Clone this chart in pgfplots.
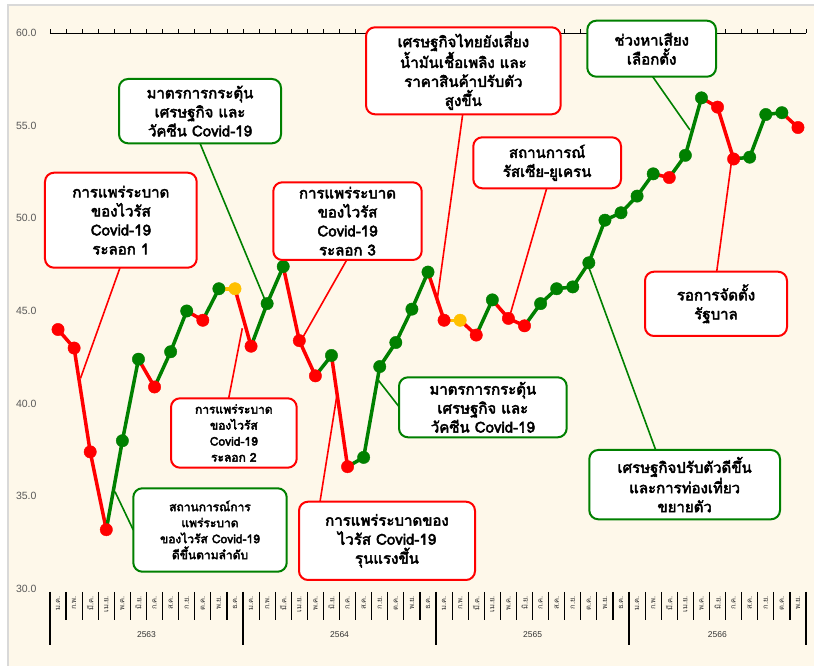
\documentclass[border=0pt]{standalone}
\usepackage{pgfplots}
\pgfplotsset{compat=1.18}
\usepackage{fontspec}
\setmainfont{Liberation Sans}
\newfontfamily\thaifont[Script=Thai, AutoFakeBold=3.2]{Loma}
\definecolor{cream}{HTML}{FEF8EA}
\definecolor{myred}{HTML}{FF0000}
\definecolor{mygreen}{HTML}{008000}
\definecolor{myyellow}{HTML}{FFC000}
\definecolor{framegray}{HTML}{D9D9D9}
\definecolor{ticklab}{HTML}{595959}
\newcommand{\bigf}{\thaifont\bfseries\fontsize{15}{19}\selectfont}
\newcommand{\smallf}{\thaifont\bfseries\fontsize{12}{16}\selectfont}
% \abox{color}{cx}{cy}{w}{h}{font}{text}
\newcommand{\abox}[7]{%
  \node[draw=#1, line width=2pt, fill=white, rounded corners=9pt,
        minimum width=#4pt, minimum height=#5pt, inner sep=0pt,
        align=center, font=#6, text=black] at (#2pt,#3pt) {#7};}
\begin{document}
\begin{tikzpicture}
\useasboundingbox (-50pt,-77pt) rectangle (764pt,589pt);
\fill[white] (-50pt,-77pt) rectangle (764pt,589pt);
\begin{scope}
\clip (-50pt,-77pt) rectangle (764pt,589pt);
\draw[framegray, line width=2pt, fill=cream] (-42pt,-100pt) rectangle (800pt,584pt);
\end{scope}
\begin{axis}[
  scale only axis, width=756pt, height=556pt,
  xmin=-0.5, xmax=46.5, ymin=30, ymax=60,
  axis x line*=top, axis y line*=left,
  y axis line style={draw=none},
  x axis line style={black, line width=0.8pt},
  xtick={-0.5,0.5,...,46.5}, xticklabels={},
  xtick align=outside, xtick style={black, line width=0.8pt},
  major tick length=3.5pt,
  ytick={30,35,...,60}, ytick style={draw=none},
  yticklabel style={font=\fontsize{10.5}{12}\selectfont, text=ticklab, xshift=-10pt,
    /pgf/number format/fixed, /pgf/number format/fixed zerofill,
    /pgf/number format/precision=1, /pgf/number format/assume math mode=true},
  unbounded coords=jump,
  clip=false,
]
% line segments, coloured by direction
\addplot[myred, line width=3.5pt, line join=round, line cap=round, no markers] coordinates {
(0,44.0)(1,43.0)(2,37.4)(3,33.2) (3,nan)
(5,42.4)(6,40.9) (6,nan)
(8,45.0)(9,44.5) (9,nan)
(11,46.2)(12,43.1) (12,nan)
(14,47.4)(15,43.4)(16,41.5) (16,nan)
(17,42.6)(18,36.6) (18,nan)
(23,47.1)(24,44.5) (24,nan)
(25,44.5)(26,43.7) (26,nan)
(27,45.6)(28,44.6)(29,44.2) (29,nan)
(37,52.4)(38,52.2) (38,nan)
(40,56.5)(41,56.0)(42,53.2) (42,nan)
(45,55.7)(46,54.9)};
\addplot[mygreen, line width=3.5pt, line join=round, line cap=round, no markers] coordinates {
(3,33.2)(4,38.0)(5,42.4) (5,nan)
(6,40.9)(7,42.8)(8,45.0) (8,nan)
(9,44.5)(10,46.2) (10,nan)
(12,43.1)(13,45.4)(14,47.4) (14,nan)
(16,41.5)(17,42.6) (17,nan)
(18,36.6)(19,37.1)(20,42.0)(21,43.3)(22,45.1)(23,47.1) (23,nan)
(26,43.7)(27,45.6) (27,nan)
(29,44.2)(30,45.4)(31,46.2)(32,46.3)(33,47.6)(34,49.9)(35,50.3)(36,51.2)(37,52.4) (37,nan)
(38,52.2)(39,53.4)(40,56.5) (40,nan)
(42,53.2)(43,53.3)(44,55.6)(45,55.7)};
\addplot[myyellow, line width=3.5pt, line join=round, line cap=round, no markers] coordinates {
(10,46.2)(11,46.2) (11,nan)
(24,44.5)(25,44.5)};
% markers
\addplot[only marks, mark=*, mark size=6.2pt, mark options={draw=myred, fill=myred}] coordinates {
(0,44.0)(1,43.0)(2,37.4)(3,33.2)(6,40.9)(9,44.5)(12,43.1)(15,43.4)(16,41.5)(18,36.6)
(24,44.5)(26,43.7)(28,44.6)(29,44.2)(38,52.2)(41,56.0)(42,53.2)(46,54.9)};
\addplot[only marks, mark=*, mark size=6.2pt, mark options={draw=mygreen, fill=mygreen}] coordinates {
(4,38.0)(5,42.4)(7,42.8)(8,45.0)(10,46.2)(13,45.4)(14,47.4)(17,42.6)(19,37.1)(20,42.0)
(21,43.3)(22,45.1)(23,47.1)(27,45.6)(30,45.4)(31,46.2)(32,46.3)(33,47.6)(34,49.9)(35,50.3)
(36,51.2)(37,52.4)(39,53.4)(40,56.5)(43,53.3)(44,55.6)(45,55.7)};
\addplot[only marks, mark=*, mark size=6.2pt, mark options={draw=myyellow, fill=myyellow}] coordinates {
(11,46.2)(25,44.5)};
\end{axis}
% category axis (months / years)
\foreach \k in {0,...,47} \draw[line width=1.2pt] ({16.0851*\k*1pt},-3pt) -- ({16.0851*\k*1pt},-31pt);
\foreach \k in {0,12,24,36,47} \draw[line width=1.2pt] ({16.0851*\k*1pt},-3pt) -- ({16.0851*\k*1pt},-56pt);
\foreach \m [count=\i from 0] in {ม.ค.,ก.พ.,มี.ค.,เม.ย.,พ.ค.,มิ.ย.,ก.ค.,ส.ค.,ก.ย.,ต.ค.,พ.ย.,ธ.ค.,
  ม.ค.,ก.พ.,มี.ค.,เม.ย.,พ.ค.,มิ.ย.,ก.ค.,ส.ค.,ก.ย.,ต.ค.,พ.ย.,ธ.ค.,
  ม.ค.,ก.พ.,มี.ค.,เม.ย.,พ.ค.,มิ.ย.,ก.ค.,ส.ค.,ก.ย.,ต.ค.,พ.ย.,ธ.ค.,
  ม.ค.,ก.พ.,มี.ค.,เม.ย.,พ.ค.,มิ.ย.,ก.ค.,ส.ค.,ก.ย.,ต.ค.,พ.ย.}
  \node[rotate=90, anchor=east, inner sep=0pt, font=\thaifont\fontsize{7.5}{8}\selectfont, text=black!80]
    at ({16.0851*(\i+0.5)*1pt},-7pt) {\m};
\foreach \x/\yr in {96.5/2563,289.5/2564,482.6/2565,667.3/2566}
  \node[font=\fontsize{8.5}{10}\selectfont, text=black!80] at (\x pt,-46pt) {\yr};
% leader lines
\begin{scope}[x=1pt, y=1pt, line width=1.6pt]
\draw[myred] (70,321.3) -- (30.5,210.7);
\draw[mygreen] (150,445.7) -- (215,289);
\draw[myred] (296.7,329) -- (251.7,249.7);
\draw[myred] (412.7,474.7) -- (386.7,285.7);
\draw[myred] (496.7,400.7) -- (460,274);
\draw[mygreen] (602.7,512.3) -- (640,459);
\draw[myred] (666.7,317.3) -- (681.7,429);
\draw[mygreen] (605.7,139) -- (538.3,323);
\draw[mygreen] (349,182.3) -- (327,210.5);
\draw[myred] (178.7,190.7) -- (192.3,260.7);
\draw[mygreen] (83.3,59) -- (65,97.3);
\draw[myred] (270,87.3) -- (286.7,192.3);
\end{scope}
% annotation boxes
\abox{myred}{70.85}{368.8}{151.7}{95}{\bigf}{การแพร่ระบาด\\ของไวรัส\\Covid-19\\ระลอก 1}
\abox{mygreen}{150}{477.85}{162}{64.3}{\bigf}{มาตรการกระตุ้น\\เศรษฐกิจ และ\\วัคซีน Covid-19}
\abox{myred}{297.5}{367.85}{148.4}{77.7}{\bigf}{การแพร่ระบาด\\ของไวรัส\\Covid-19\\ระลอก 3}
\abox{myred}{413.35}{518.2}{194.7}{87}{\bigf}{เศรษฐกิจไทยยังเสี่ยง\\น้ำมันเชื้อเพลิง และ\\ราคาสินค้าปรับตัว\\สูงขึ้น}
\abox{myred}{497.15}{426.2}{147.7}{51}{\bigf}{สถานการณ์\\รัสเซีย-ยูเครน}
\abox{mygreen}{601.65}{540.3}{128.7}{56}{\bigf}{ช่วงหาเสียง\\เลือกตั้ง}
\abox{myred}{666}{285.15}{142}{64.3}{\bigf}{รอการจัดตั้ง\\รัฐบาล}
\abox{mygreen}{634.65}{104.35}{190.7}{69.3}{\bigf}{เศรษฐกิจปรับตัวดีขึ้น\\และการท่องเที่ยว\\ขยายตัว}
\abox{mygreen}{432.85}{181.7}{167.7}{60}{\bigf}{มาตรการกระตุ้น\\เศรษฐกิจ และ\\วัคซีน Covid-19}
\abox{myred}{183.85}{156}{125.7}{69.4}{\smallf}{การแพร่ระบาด\\ของไวรัส\\Covid-19\\ระลอก 2}
\abox{mygreen}{160}{59}{153.4}{83.4}{\smallf}{สถานการณ์การ\\แพร่ระบาด\\ของไวรัส Covid-19\\ดีขึ้นตามลำดับ}
\abox{myred}{337}{48.15}{176}{78.3}{\bigf}{การแพร่ระบาดของ\\ไวรัส Covid-19\\รุนแรงขึ้น}
\end{tikzpicture}
\end{document}
